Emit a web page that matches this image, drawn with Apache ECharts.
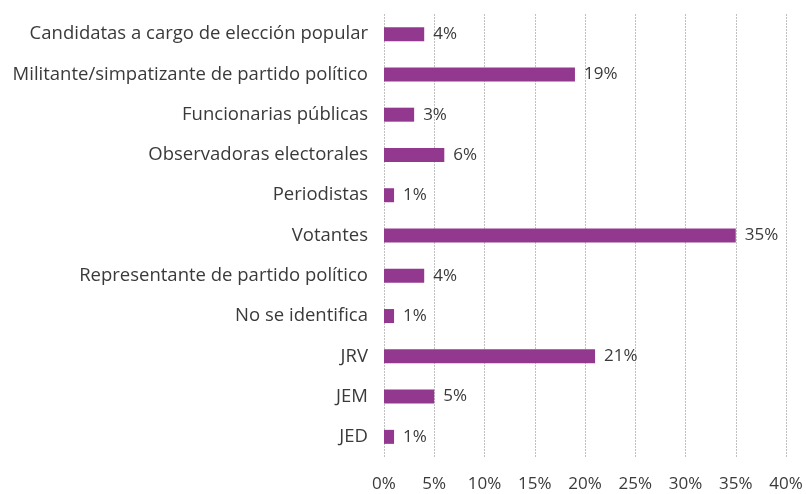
<!DOCTYPE html>
<html>
<head>
<meta charset="utf-8">
<script src="https://cdn.jsdelivr.net/npm/echarts@6/dist/echarts.min.js"></script>
<style>html,body{margin:0;padding:0;background:#fff;}#c{width:806px;height:494px;}</style>
</head>
<body>
<div id="c"></div>
<script>
const categories = ["Candidatas a cargo de elección popular","Militante/simpatizante de partido político","Funcionarias públicas","Observadoras electorales","Periodistas","Votantes","Representante de partido político","No se identifica","JRV","JEM","JED"];
const values = [4,19,3,6,1,35,4,1,21,5,1];
const xTicks = [0,5,10,15,20,25,30,35,40];

const FONT = 'Open Sans';
const chart = echarts.init(document.getElementById('c'));
chart.setOption({
  animation:false,
  grid:{left:384,right:20,top:14,bottom:37,containLabel:false},
  xAxis:{type:'value',min:0,max:40,interval:5,
    axisLine:{show:false},axisTick:{show:false},
    axisLabel:{formatter:v=>v+'%',fontFamily:FONT,fontSize:17,color:'#3a3a3a',margin:19},
    splitLine:{show:true,lineStyle:{color:'#c0c0c0',type:[2,1],width:1}}},
  yAxis:{type:'category',data:categories,inverse:true,
    axisLine:{show:false},axisTick:{show:false},
    axisLabel:{fontFamily:FONT,fontSize:18.5,color:'#3a3a3a',margin:16}},
  series:[{type:'bar',data:values,barWidth:14,
    itemStyle:{color:'#93388f'},
    label:{show:true,position:'right',formatter:p=>p.value+'%',fontFamily:FONT,fontSize:17,color:'#3a3a3a',distance:9}}]
});
</script>
</body>
</html>
